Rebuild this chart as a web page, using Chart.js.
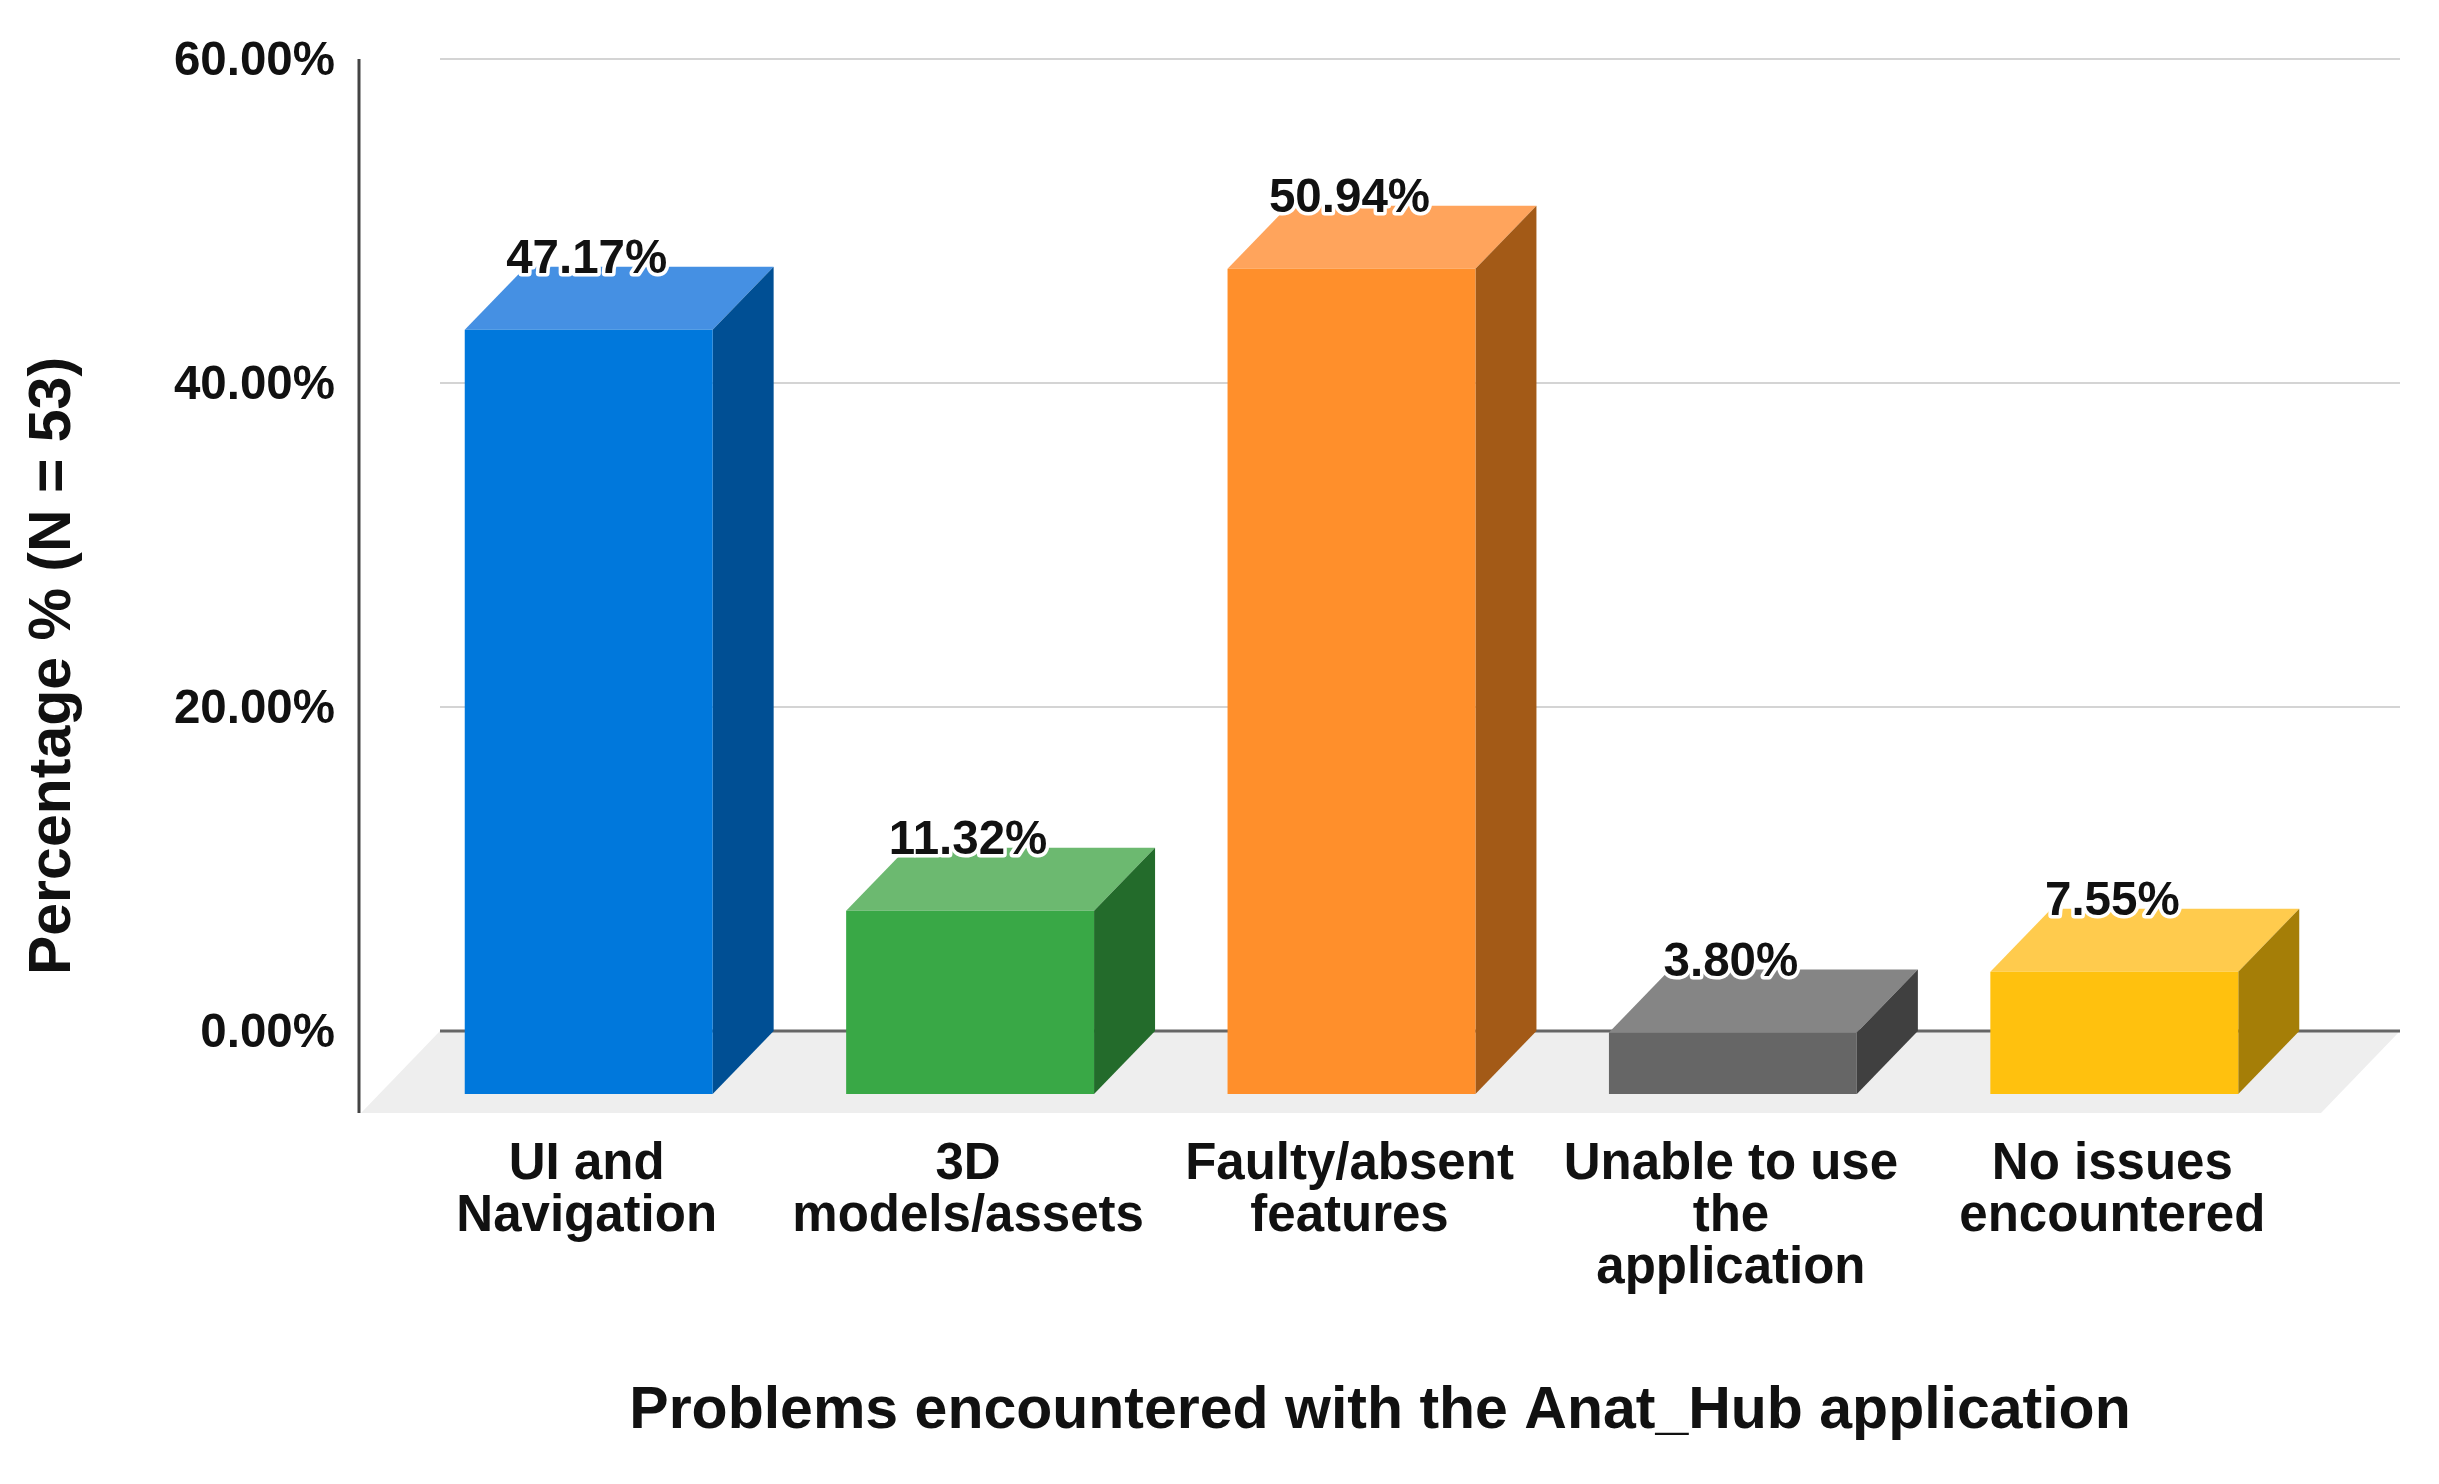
<!DOCTYPE html>
<html>
<head>
<meta charset="utf-8">
<title>Anat_Hub problems</title>
<script src="https://cdn.jsdelivr.net/npm/chart.js@4"></script>
<style>
  html, body { margin: 0; background: #fff; }
  canvas { display: block; }
</style>
</head>
<body>
<canvas id="chart" width="2439" height="1484"></canvas>
<script>
const categories = [
    ['UI and', 'Navigation'],
    ['3D', 'models/assets'],
    ['Faulty/absent', 'features'],
    ['Unable to use', 'the', 'application'],
    ['No issues', 'encountered']
]
const percentages = [47.17, 11.32, 50.94, 3.80, 7.55]
const yTicks = [0, 20, 40, 60]
const yTitle = 'Percentage % (N = 53)'
const xTitle = 'Problems encountered with the Anat_Hub application'

const frontColors = ['#0078dc', '#39a846', '#ff8f2b', '#666666', '#ffc10e']
const topColors = ['#4590e3', '#6cb970', '#ffa45c', '#858585', '#ffcb4d']
const sideColors = ['#004f94', '#236b2b', '#a35a17', '#404040', '#a57e07']

// how far the back of the 3D bars sits from the front, in px
const depthX = 61
const depthY = 63
const fontFamily = '"Liberation Sans", Arial, sans-serif'

const poly = (ctx, color, pts) => {
    ctx.fillStyle = color
    ctx.beginPath()
    pts.forEach(([x, y], i) => i ? ctx.lineTo(x, y) : ctx.moveTo(x, y))
    ctx.closePath()
    ctx.fill()
}

// floor, grid lines and the y axis line sit outside the chart area in this fake 3D view
const backdrop = {
    id: 'backdrop',
    beforeDatasetsDraw(chart) {
        const { ctx, chartArea, scales: { y } } = chart
        const zero = y.getPixelForValue(0)
        const wallLeft = chartArea.left + 42
        const wallRight = chartArea.right + 95
        const axisX = chartArea.left - 39

        poly(ctx, '#eeeeee', [
            [wallLeft, zero],
            [wallRight, zero],
            [wallRight - 79, chartArea.bottom],
            [axisX + 2, chartArea.bottom]
        ])

        yTicks.forEach(v => {
            const py = y.getPixelForValue(v)
            ctx.strokeStyle = v === 0 ? '#666666' : '#d4d4d4'
            ctx.lineWidth = v === 0 ? 3 : 2
            ctx.beginPath()
            ctx.moveTo(wallLeft, py)
            ctx.lineTo(wallRight, py)
            ctx.stroke()
        })

        ctx.strokeStyle = '#444444'
        ctx.lineWidth = 3
        ctx.beginPath()
        ctx.moveTo(axisX, chartArea.top)
        ctx.lineTo(axisX, chartArea.bottom)
        ctx.stroke()
    }
}

const bars3d = {
    id: 'bars3d',
    beforeDatasetDraw(chart, { meta }) {
        const { ctx } = chart
        meta.data.forEach((bar, i) => {
            const x0 = bar.x - bar.width / 2
            const x1 = bar.x + bar.width / 2
            poly(ctx, topColors[i], [
                [x0, bar.y + depthY],
                [x1, bar.y + depthY],
                [x1 + depthX, bar.y],
                [x0 + depthX, bar.y]
            ])
            poly(ctx, sideColors[i], [
                [x1, bar.y + depthY],
                [x1 + depthX, bar.y],
                [x1 + depthX, bar.base],
                [x1, bar.base + depthY]
            ])
        })
        // chart.js draws the front face itself, just pushed down
        ctx.save()
        ctx.translate(0, depthY)
    },
    afterDatasetDraw(chart) {
        chart.ctx.restore()
    },
    afterDatasetsDraw(chart) {
        const { ctx } = chart
        ctx.save()
        ctx.font = 'bold 47.5px ' + fontFamily
        ctx.textAlign = 'center'
        ctx.textBaseline = 'middle'
        ctx.lineJoin = 'round'
        chart.getDatasetMeta(0).data.forEach((bar, i) => {
            const label = percentages[i].toFixed(2) + '%'
            ctx.strokeStyle = '#ffffff'
            ctx.lineWidth = 7
            ctx.strokeText(label, bar.x - 2, bar.y - 7)
            ctx.fillStyle = '#111111'
            ctx.fillText(label, bar.x - 2, bar.y - 7)
        })
        ctx.restore()
    }
}

// chart.js centres axis titles on the chart area, these are off centre in the original
const titles = {
    id: 'titles',
    afterDraw(chart) {
        const { ctx } = chart
        ctx.save()
        ctx.font = 'bold 59px ' + fontFamily
        ctx.fillStyle = '#111111'
        ctx.textAlign = 'center'
        ctx.textBaseline = 'middle'
        ctx.fillText(xTitle, 1380, 1412)
        ctx.translate(54, 666)
        ctx.rotate(-Math.PI / 2)
        ctx.fillText(yTitle, 0, 0)
        ctx.restore()
    }
}

const ctx = document.getElementById('chart')

const problemsChart = new Chart(ctx, {
    type: 'bar',
    data: {
        labels: categories,
        datasets: [{
            label: 'Percentage',
            data: percentages,
            backgroundColor: frontColors,
            borderWidth: 0,
            barPercentage: 0.65,
            categoryPercentage: 1,
            clip: false
        }]
    },
    options: {
        responsive: false,
        animation: false,
        layout: {
            padding: { top: 59, right: 134, bottom: 0, left: 0 }
        },
        plugins: {
            legend: { display: false },
            tooltip: { enabled: false }
        },
        scales: {
            x: {
                grid: { display: false },
                border: { display: false },
                afterFit: (scale) => { scale.height = 371 },
                ticks: {
                    color: '#111111',
                    padding: 18,
                    labelOffset: -2,
                    maxRotation: 0,
                    autoSkip: false,
                    font: { family: fontFamily, size: 51, weight: 'bold', lineHeight: 1.02 }
                }
            },
            y: {
                min: -5.06,
                max: 60,
                grid: { display: false },
                border: { display: false },
                afterFit: (scale) => {
                    scale.width = 398
                    // tick padding would otherwise push the chart area down
                    scale.paddingTop = 0
                    scale.paddingBottom = 0
                },
                afterBuildTicks: (scale) => { scale.ticks = yTicks.map(value => ({ value })) },
                ticks: {
                    color: '#111111',
                    padding: 55,
                    labelOffset: 3,
                    font: { family: fontFamily, size: 47.5, weight: 'bold' },
                    callback: (value) => value.toFixed(2) + '%'
                }
            }
        }
    },
    plugins: [backdrop, bars3d, titles]
})
</script>
</body>
</html>
